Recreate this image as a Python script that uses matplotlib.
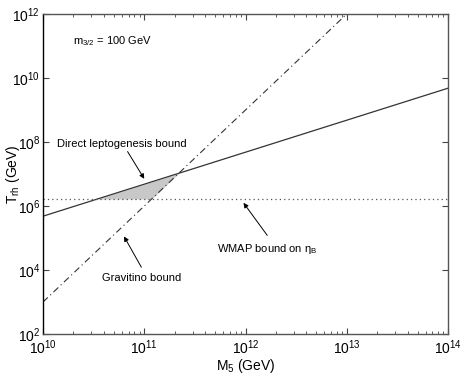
import numpy as np
import matplotlib
matplotlib.use('Agg')
import matplotlib.pyplot as plt

plt.rcParams['font.family'] = ['Liberation Sans', 'DejaVu Sans']
plt.rcParams['mathtext.fontset'] = 'custom'
plt.rcParams['mathtext.rm'] = 'Liberation Sans'
plt.rcParams['mathtext.it'] = 'Liberation Sans:italic'

# values
M5 = [1e10, 1e14]
T_lepto = [4.8e5, 4.8e9]          # direct leptogenesis bound, T ~ M
M5_grav = [1e10, 1e13]
T_grav = [1.0e3, 1.0e12]          # gravitino bound, T ~ M^3
T_wmap = 1.66e6                   # WMAP bound on eta_B

xlim = (1e10, 1e14)
ylim = (1e2, 1e12)

fig = plt.figure(figsize=(4.63, 3.75), dpi=100)
ax = fig.add_axes([43/463, 1-334/375, 405/463, 320/375])

ax.plot(M5, T_lepto, color='#333333', lw=0.9)
ax.plot(M5_grav, T_grav, color='#333333', lw=0.8, ls=(0, (6, 3, 1, 3)))
ax.plot(xlim, [T_wmap, T_wmap], color='#555555', lw=0.9, ls=(0, (1, 2.5)))

# shaded region: above WMAP and gravitino bound, below leptogenesis line
m = np.logspace(10, 12, 600)
lep = 10**np.interp(np.log10(m), np.log10(M5), np.log10(T_lepto))
grv = 10**np.interp(np.log10(m), np.log10(M5_grav), np.log10(T_grav))
bot = np.maximum(grv, T_wmap)
ax.fill_between(m, bot, lep, where=lep > bot, color='#c8c8c8', lw=0, interpolate=True)

ax.set_xscale('log')
ax.set_yscale('log')
ax.set_xlim(xlim)
ax.set_ylim(ylim)
ax.set_yticks([1e2, 1e4, 1e6, 1e8, 1e10, 1e12])
ax.yaxis.set_minor_locator(matplotlib.ticker.NullLocator())
ax.tick_params(which='both', direction='in', top=True, right=True, labelsize=10,
               colors='#444444', labelcolor='black', pad=2)
ax.tick_params(axis='x', which='both', pad=3.5)
ax.tick_params(which='major', length=4)
ax.tick_params(which='minor', length=2)
for s in ax.spines.values():
    s.set_color('#555555')
    s.set_linewidth(1.0)
ax.spines['left'].set_color('black')

ax.set_xlabel('M$_\\mathregular{5}$ (GeV)', fontsize=10)
ax.xaxis.set_label_coords(0.5, -0.072)
ax.set_ylabel('T$_\\mathregular{rh}$ (GeV)', fontsize=10)
ax.yaxis.set_label_coords(-0.052, 0.5)

ax.text(0.075, 0.905, r'm$_\mathregular{3/2}$ = 100 GeV', transform=ax.transAxes, fontsize=8)

ap = dict(arrowstyle='-|>', color='black', lw=0.7, mutation_scale=7, shrinkA=0, shrinkB=0)
ax.annotate('Direct leptogenesis bound', xy=(10**11.0, 10**6.85), xytext=(10**10.14, 10**7.85),
            fontsize=8, arrowprops=dict(ap, relpos=(0.53, 0)))
ax.annotate('Gravitino bound', xy=(10**10.8, 10**5.05), xytext=(10**10.58, 10**3.65),
            fontsize=8, arrowprops=dict(ap, relpos=(0.5, 1.6)))
ax.annotate('WMAP bound on η$_\\mathregular{B}$', xy=(10**11.98, 10**6.1), xytext=(10**11.72, 10**4.55),
            fontsize=8, arrowprops=dict(ap, relpos=(0.5, 1.5)))

fig.savefig('out.png', dpi=100)
